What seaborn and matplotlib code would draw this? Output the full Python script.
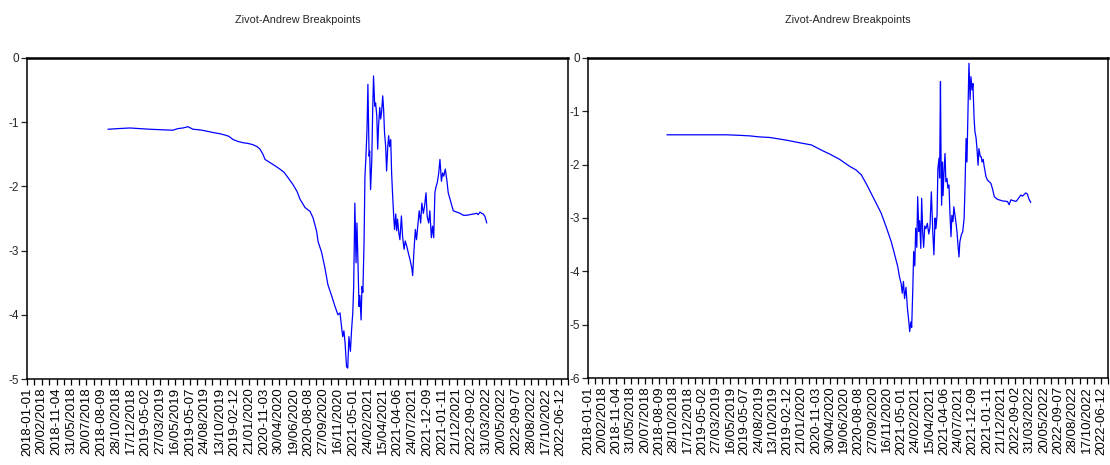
import numpy as np
import pandas as pd
import matplotlib
matplotlib.use("Agg")
import matplotlib.pyplot as plt
from matplotlib.ticker import MultipleLocator, FixedLocator
import seaborn as sns

# Sample: daily observations 2018-01-01 .. 2022-12-31 (index 0..1825)
n_obs = 1826

# Date labels as stored in the workfile, one every 50 observations
date_labels = [
    "2018-01-01", "20/02/2018", "2018-11-04", "31/05/2018", "20/07/2018",
    "2018-08-09", "28/10/2018", "17/12/2018", "2019-05-02", "27/03/2019",
    "16/05/2019", "2019-05-07", "24/08/2019", "13/10/2019", "2019-02-12",
    "21/01/2020", "2020-11-03", "30/04/2020", "19/06/2020", "2020-08-08",
    "27/09/2020", "16/11/2020", "2021-05-01", "24/02/2021", "15/04/2021",
    "2021-04-06", "24/07/2021", "2021-12-09", "2021-01-11", "21/12/2021",
    "2022-09-02", "31/03/2022", "20/05/2022", "2022-09-07", "28/08/2022",
    "17/10/2022", "2022-06-12",
]

# Zivot-Andrews break-date t statistics, first series (observation, t-stat)
obs_a = [
    273, 307, 347, 415, 466, 492, 509, 526, 543, 560, 584, 607, 627, 651, 668,
    681, 695, 712, 729, 745, 762, 776, 786, 796, 803, 820, 837, 853, 867, 880,
    897, 911, 921, 938, 955, 965, 977, 982, 994, 1005, 1015, 1028, 1039, 1049,
    1056, 1059, 1065, 1069, 1073, 1078, 1082, 1086, 1091, 1095, 1099, 1102,
    1106, 1110, 1113, 1116, 1120, 1123, 1127, 1130, 1133, 1137, 1140, 1143,
    1147, 1150, 1154, 1156, 1159, 1163, 1166, 1169, 1173, 1176, 1180, 1183,
    1186, 1190, 1193, 1196, 1200, 1203, 1206, 1210, 1213, 1217, 1220, 1223,
    1227, 1230, 1233, 1237, 1240, 1244, 1247, 1250, 1254, 1258, 1263, 1267,
    1272, 1276, 1281, 1286, 1292, 1298, 1301, 1305, 1310, 1314, 1319, 1323,
    1328, 1332, 1337, 1341, 1346, 1350, 1355, 1359, 1364, 1368, 1372, 1376,
    1379, 1384, 1389, 1393, 1398, 1402, 1406, 1411, 1416, 1421, 1427, 1432,
    1438, 1449, 1461, 1472, 1483, 1494, 1505, 1517, 1522, 1528, 1534, 1539,
    1545, 1551,
]
tstat_a = [
    -1.11, -1.10, -1.09, -1.11, -1.12, -1.125, -1.10, -1.09, -1.07, -1.11,
    -1.12, -1.14, -1.16, -1.18, -1.20, -1.22, -1.27, -1.30, -1.32, -1.33,
    -1.35, -1.38, -1.42, -1.50, -1.58, -1.63, -1.68, -1.73, -1.78, -1.86,
    -1.97, -2.08, -2.20, -2.33, -2.39, -2.49, -2.70, -2.86, -3.03, -3.27,
    -3.53, -3.71, -3.87, -4.00, -3.97, -4.10, -4.34, -4.25, -4.44, -4.81,
    -4.83, -4.34, -4.57, -4.23, -3.97, -3.56, -2.26, -3.19, -2.57, -3.09,
    -3.87, -3.70, -4.08, -3.56, -3.65, -2.88, -1.84, -1.58, -1.11, -0.41,
    -1.53, -1.45, -2.05, -1.60, -0.85, -0.28, -0.75, -0.70, -0.90, -1.42,
    -1.05, -0.77, -0.95, -0.85, -0.59, -0.80, -1.16, -1.38, -1.76, -1.38,
    -1.21, -1.38, -1.27, -1.79, -2.10, -2.46, -2.67, -2.43, -2.69, -2.51,
    -2.72, -2.83, -2.46, -2.78, -2.98, -2.85, -2.93, -3.03, -3.14, -3.27,
    -3.39, -3.03, -2.67, -2.83, -2.57, -2.38, -2.57, -2.26, -2.42, -2.31,
    -2.10, -2.47, -2.57, -2.38, -2.80, -2.62, -2.80, -2.10, -2.02, -1.94,
    -1.79, -1.58, -1.92, -1.79, -1.84, -1.73, -1.89, -2.10, -2.20, -2.28,
    -2.38, -2.40, -2.42, -2.45, -2.45, -2.44, -2.43, -2.42, -2.44, -2.40,
    -2.42, -2.43, -2.47, -2.57,
]

# Zivot-Andrews break-date t statistics, second series (observation, t-stat)
obs_b = [
    277, 357, 427, 486, 532, 567, 603, 638, 696, 743, 784, 824, 848, 883, 918,
    941, 959, 976, 994, 1011, 1029, 1046, 1064, 1075, 1087, 1093, 1099, 1103,
    1107, 1111, 1116, 1121, 1126, 1129, 1133, 1136, 1140, 1143, 1147, 1150,
    1154, 1157, 1161, 1164, 1168, 1171, 1175, 1178, 1182, 1186, 1191, 1196,
    1200, 1205, 1210, 1214, 1218, 1221, 1225, 1228, 1232, 1234, 1237, 1239,
    1241, 1244, 1246, 1250, 1253, 1256, 1260, 1263, 1267, 1270, 1274, 1277,
    1281, 1284, 1288, 1291, 1295, 1298, 1302, 1305, 1310, 1315, 1320, 1323,
    1327, 1330, 1334, 1337, 1341, 1344, 1348, 1351, 1355, 1358, 1362, 1365,
    1369, 1372, 1377, 1380, 1383, 1387, 1390, 1397, 1402, 1408, 1414, 1420,
    1426, 1437, 1455, 1472, 1478, 1484, 1496, 1502, 1507, 1519, 1525, 1536,
    1542, 1548, 1554,
]
tstat_b = [
    -1.44, -1.44, -1.44, -1.44, -1.45, -1.46, -1.48, -1.49, -1.54, -1.59,
    -1.63, -1.74, -1.80, -1.90, -2.03, -2.10, -2.19, -2.35, -2.54, -2.72,
    -2.91, -3.16, -3.44, -3.66, -3.91, -4.10, -4.23, -4.41, -4.19, -4.51,
    -4.30, -4.69, -4.94, -5.13, -4.95, -5.05, -4.32, -3.63, -3.90, -3.19,
    -3.55, -2.60, -3.25, -3.05, -3.57, -2.63, -3.30, -3.55, -3.15, -3.20,
    -3.10, -3.30, -3.18, -2.51, -3.25, -3.69, -3.00, -3.20, -2.95, -2.07,
    -1.88, -2.25, -0.44, -1.85, -2.76, -1.95, -2.58, -2.07, -1.79, -2.32,
    -2.26, -2.44, -2.38, -2.88, -3.35, -2.95, -3.07, -2.79, -2.95, -3.07,
    -3.26, -3.47, -3.73, -3.45, -3.32, -3.26, -3.01, -2.45, -1.51, -1.95,
    -0.88, -0.10, -0.78, -0.35, -0.60, -0.48, -1.13, -1.38, -1.50, -1.69,
    -2.01, -1.70, -1.85, -1.85, -1.95, -1.90, -2.02, -2.23, -2.29, -2.32,
    -2.35, -2.46, -2.60, -2.65, -2.68, -2.69, -2.75, -2.66, -2.68, -2.69,
    -2.66, -2.57, -2.59, -2.53, -2.55, -2.65, -2.71,
]

title = "Zivot-Andrew Breakpoints"

sns.set_style("ticks")
plt.rcParams["font.family"] = ["Liberation Sans", "DejaVu Sans"]
plt.rcParams["axes.linewidth"] = 1.1
plt.rcParams["xtick.major.width"] = 0.9
plt.rcParams["ytick.major.width"] = 0.9

fig = plt.figure(figsize=(11.10, 4.65), dpi=100)
W, H = 1110, 465


def panel(px0, px1, py0, py1):
    return fig.add_axes([px0 / W, 1 - py1 / H, (px1 - px0) / W, (py1 - py0) / H])


ax_a = panel(27, 568, 58, 379)
ax_b = panel(588, 1108, 58, 378)

frames = [
    (ax_a, pd.DataFrame({"obs": obs_a, "tstat": tstat_a}), -5),
    (ax_b, pd.DataFrame({"obs": obs_b, "tstat": tstat_b}), -6),
]

for ax, df, ymin in frames:
    sns.lineplot(data=df, x="obs", y="tstat", ax=ax, color="#0000ff",
                 linewidth=0.9, estimator=None, sort=False)
    ax.set_xlim(0, n_obs - 1)
    ax.set_ylim(ymin, 0)
    ax.set_xlabel("")
    ax.set_ylabel("")
    ax.set_title(title, fontsize=7.8, pad=25,
                 family=["Liberation Sans Narrow", "Liberation Sans", "DejaVu Sans"])
    ax.yaxis.set_major_locator(MultipleLocator(1))
    ax.set_yticklabels([str(int(v)) for v in ax.get_yticks()])
    ax.xaxis.set_major_locator(FixedLocator(range(0, 50 * len(date_labels), 50)))
    ax.set_xticklabels(date_labels, rotation=90, fontsize=9.6)
    ax.xaxis.set_minor_locator(MultipleLocator(25))
    ax.tick_params(axis="x", which="both", length=4, width=0.9, pad=2,
                   direction="out", colors="black")
    ax.tick_params(axis="y", length=4, labelsize=8.5, pad=2)
    for s in ax.spines.values():
        s.set_visible(True)
        s.set_color("black")
    ax.spines["top"].set_linewidth(1.8)
    ax.grid(False)

fig.savefig("out.png", dpi=100, facecolor="white")
